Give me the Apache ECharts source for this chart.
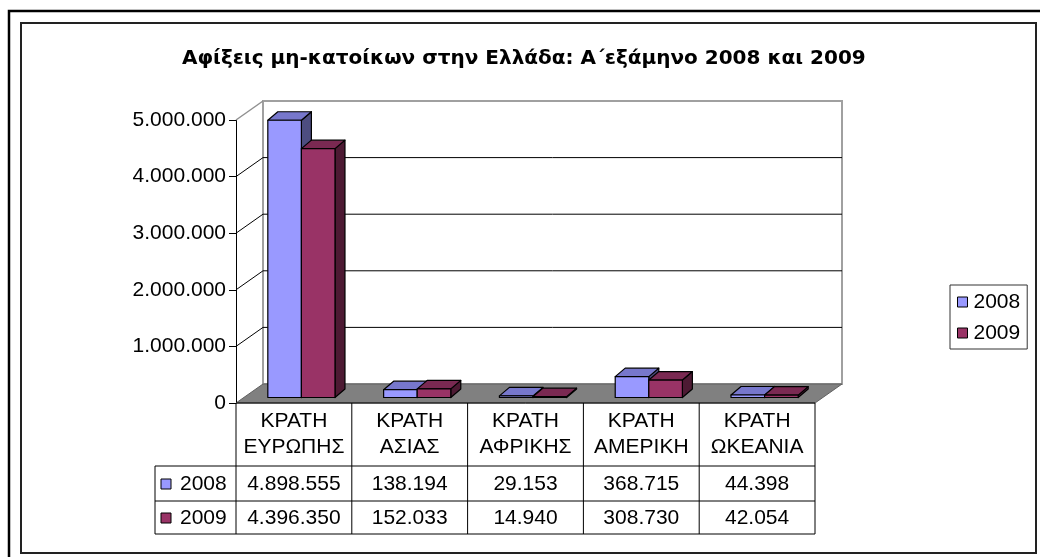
<!DOCTYPE html>
<html>
<head>
<meta charset="utf-8">
<script src="https://cdn.jsdelivr.net/npm/echarts@6/dist/echarts.min.js"></script>
<style>
html, body { margin: 0; padding: 0; background: #fff; }
#chart { width: 1040px; height: 557px; }
</style>
</head>
<body>
<div id="chart"></div>
<script>
// data
var categories = ["ΚΡΑΤΗ\nΕΥΡΩΠΗΣ", "ΚΡΑΤΗ\nΑΣΙΑΣ", "ΚΡΑΤΗ\nΑΦΡΙΚΗΣ", "ΚΡΑΤΗ\nΑΜΕΡΙΚΗ", "ΚΡΑΤΗ\nΩΚΕΑΝΙΑ"];
var years = ["2008", "2009"];
var values2008 = [4898555, 138194, 29153, 368715, 44398];
var values2009 = [4396350, 152033, 14940, 308730, 42054];
var yTicks = [0, 1000000, 2000000, 3000000, 4000000, 5000000];
var titleText = "Αφίξεις μη-κατοίκων στην Ελλάδα: Α΄εξάμηνο 2008 και 2009";

var FONT = "Liberation Sans";
var colors = [
	{ front: "#9999FF", top: "#7777CC", side: "#4D4D80" },
	{ front: "#993366", top: "#7A2952", side: "#4D1A33" }
];
var WALL_DX = 27, WALL_DY = -19;   // depth of the floor / back wall
var BAR_X0 = 7.5, BAR_Y0 = -5.5;   // bars sit a bit behind the front edge
var BAR_DX = 10, BAR_DY = -8.5;    // depth of each bar
var HEAD_H = 63, ROW1_H = 35, ROW2_H = 33, KEY_LEFT = 155;

function fmt(v) {
	return String(v).replace(/\B(?=(\d{3})+(?!\d))/g, ".");
}

function wallItem(params, api) {
	var cs = params.coordSys, gx = cs.x, gy = cs.y, gw = cs.width, gh = cs.height;
	var kids = [];
	var fy = gy + gh;
	// back wall
	kids.push({ type: "rect", shape: { x: gx + WALL_DX, y: gy + WALL_DY, width: gw, height: gh },
		style: { fill: "#fff", stroke: "#a0a0a0", lineWidth: 2 } });
	// floor
	kids.push({ type: "polygon", shape: { points: [[gx, fy], [gx + gw, fy], [gx + gw + WALL_DX, fy + WALL_DY], [gx + WALL_DX, fy + WALL_DY]] },
		style: { fill: "#808080", stroke: "#606060", lineWidth: 1 } });
	for (var i = 1; i < yTicks.length; i++) {
		var p = api.coord([0, yTicks[i]]);
		var last = i == yTicks.length - 1;
		if (!last) {
			kids.push({ type: "line", shape: { x1: gx + WALL_DX, y1: p[1] + WALL_DY, x2: gx + gw + WALL_DX, y2: p[1] + WALL_DY },
				style: { stroke: "#000", lineWidth: 1 } });
		}
		kids.push({ type: "line", shape: { x1: gx, y1: p[1], x2: gx + WALL_DX, y2: p[1] + WALL_DY },
			style: { stroke: last ? "#909090" : "#000", lineWidth: last ? 1.5 : 1 } });
	}
	return { type: "group", children: kids };
}

function barItem(k) {
	return function(params, api) {
		var cat = api.value(0), val = api.value(1);
		var base = api.coord([cat, 0]), top = api.coord([cat, val]);
		var w = api.size([1, 0])[0] * 0.29;
		var x0 = base[0] - w + k * w + BAR_X0;
		var yb = base[1] + BAR_Y0, yt = top[1] + BAR_Y0;
		var c = colors[k];
		var st = { stroke: "#000", lineWidth: 1.2, lineJoin: "round" };
		return { type: "group", children: [
			{ type: "polygon", shape: { points: [[x0 + w, yt], [x0 + w + BAR_DX, yt + BAR_DY], [x0 + w + BAR_DX, yb + BAR_DY], [x0 + w, yb]] },
				style: echarts.util.extend({ fill: c.side }, st) },
			{ type: "polygon", shape: { points: [[x0, yt], [x0 + w, yt], [x0 + w + BAR_DX, yt + BAR_DY], [x0 + BAR_DX, yt + BAR_DY]] },
				style: echarts.util.extend({ fill: c.top }, st) },
			{ type: "rect", shape: { x: x0, y: yt, width: w, height: yb - yt },
				style: echarts.util.extend({ fill: c.front }, st) }
		] };
	};
}

function tableItem(params, api) {
	var cs = params.coordSys, gx = cs.x, gw = cs.width, fy = cs.y + cs.height;
	var i = params.dataIndex;
	var cx = api.coord([i, 0])[0], bw = api.size([1, 0])[0];
	var y1 = fy + HEAD_H, y2 = y1 + ROW1_H, y3 = y2 + ROW2_H;
	var ln = { stroke: "#000", lineWidth: 1 };
	var txt = { fill: "#000", font: "21px '" + FONT + "'", align: "center", verticalAlign: "middle" };
	var parts = categories[i].split("\n");
	var kids = [
		{ type: "line", shape: { x1: cx - bw / 2, y1: fy, x2: cx - bw / 2, y2: y3 }, style: ln },
		{ type: "text", style: echarts.util.extend({ text: parts[0], x: cx, y: fy + 18 }, txt) },
		{ type: "text", style: echarts.util.extend({ text: parts[1], x: cx, y: fy + 44 }, txt) },
		{ type: "text", style: echarts.util.extend({ text: fmt(values2008[i]), x: cx, y: y1 + 18 }, txt) },
		{ type: "text", style: echarts.util.extend({ text: fmt(values2009[i]), x: cx, y: y2 + 17 }, txt) }
	];
	if (i == categories.length - 1) {
		kids.push({ type: "line", shape: { x1: cx + bw / 2, y1: fy, x2: cx + bw / 2, y2: y3 }, style: ln });
	}
	if (i == 0) {
		kids.push({ type: "line", shape: { x1: gx, y1: fy, x2: gx + gw, y2: fy }, style: ln });
		kids.push({ type: "line", shape: { x1: KEY_LEFT, y1: y1, x2: gx + gw, y2: y1 }, style: ln });
		kids.push({ type: "line", shape: { x1: KEY_LEFT, y1: y2, x2: gx + gw, y2: y2 }, style: ln });
		kids.push({ type: "line", shape: { x1: KEY_LEFT, y1: y3, x2: gx + gw, y2: y3 }, style: ln });
		kids.push({ type: "line", shape: { x1: KEY_LEFT, y1: y1, x2: KEY_LEFT, y2: y3 }, style: ln });
		var rows = [y1 + 18, y2 + 17];
		for (var k = 0; k < years.length; k++) {
			kids.push({ type: "rect", shape: { x: KEY_LEFT + 6, y: rows[k] - 5, width: 10, height: 10 },
				style: { fill: colors[k].front, stroke: "#000", lineWidth: 1 } });
			kids.push({ type: "text", style: { text: years[k], x: KEY_LEFT + 25, y: rows[k], fill: "#000",
				font: "21px '" + FONT + "'", align: "left", verticalAlign: "middle" } });
		}
	}
	return { type: "group", children: kids };
}

var chart = echarts.init(document.getElementById("chart"));
chart.setOption({
	animation: false,
	backgroundColor: "#fff",
	textStyle: { fontFamily: FONT },
	title: {
		text: titleText, left: 182, top: 49, padding: 0,
		textStyle: { fontSize: 20, fontWeight: "bold", color: "#000", fontFamily: "DejaVu Sans" }
	},
	legend: {
		orient: "vertical", left: 950, top: 285,
		padding: [6, 7, 5, 7], itemGap: 9, itemWidth: 10, itemHeight: 10,
		borderColor: "#333", borderWidth: 1, icon: "rect",
		textStyle: { fontSize: 21, color: "#000", lineHeight: 22, padding: [0, 0, 0, 1] },
		data: years.map(function(y, k) {
			return { name: y, itemStyle: { color: colors[k].front, borderColor: "#000", borderWidth: 1 } };
		})
	},
	graphic: [
		{ type: "rect", shape: { x: 9, y: 11, width: 1040, height: 560 }, style: { fill: null, stroke: "#000", lineWidth: 2.5 }, z: 100 },
		{ type: "rect", shape: { x: 21, y: 23, width: 1015, height: 530 }, style: { fill: null, stroke: "#222", lineWidth: 2 }, z: 100 }
	],
	grid: { left: 236, top: 120, width: 579, height: 283 },
	xAxis: {
		type: "category", data: categories,
		axisLine: { show: false }, axisTick: { show: false }, axisLabel: { show: false }, splitLine: { show: false }
	},
	yAxis: {
		type: "value", min: 0, max: 5000000, interval: 1000000,
		axisLine: { show: true, lineStyle: { color: "#000", width: 1 } },
		axisTick: { show: true, length: 7, lineStyle: { color: "#000" } },
		axisLabel: { fontSize: 21, color: "#000", margin: 10, formatter: fmt },
		splitLine: { show: false }
	},
	series: [
		{ type: "custom", name: "wall", renderItem: wallItem, data: [[0, 0]], silent: true, z: 1 },
		{ type: "custom", name: years[0], renderItem: barItem(0), itemStyle: { color: colors[0].front },
			data: values2008.map(function(v, i) { return [i, v]; }), z: 2 },
		{ type: "custom", name: years[1], renderItem: barItem(1), itemStyle: { color: colors[1].front },
			data: values2009.map(function(v, i) { return [i, v]; }), z: 3 },
		{ type: "custom", name: "table", renderItem: tableItem, data: categories.map(function(c, i) { return [i, 0]; }), silent: true, z: 4 }
	]
});
</script>
</body>
</html>
